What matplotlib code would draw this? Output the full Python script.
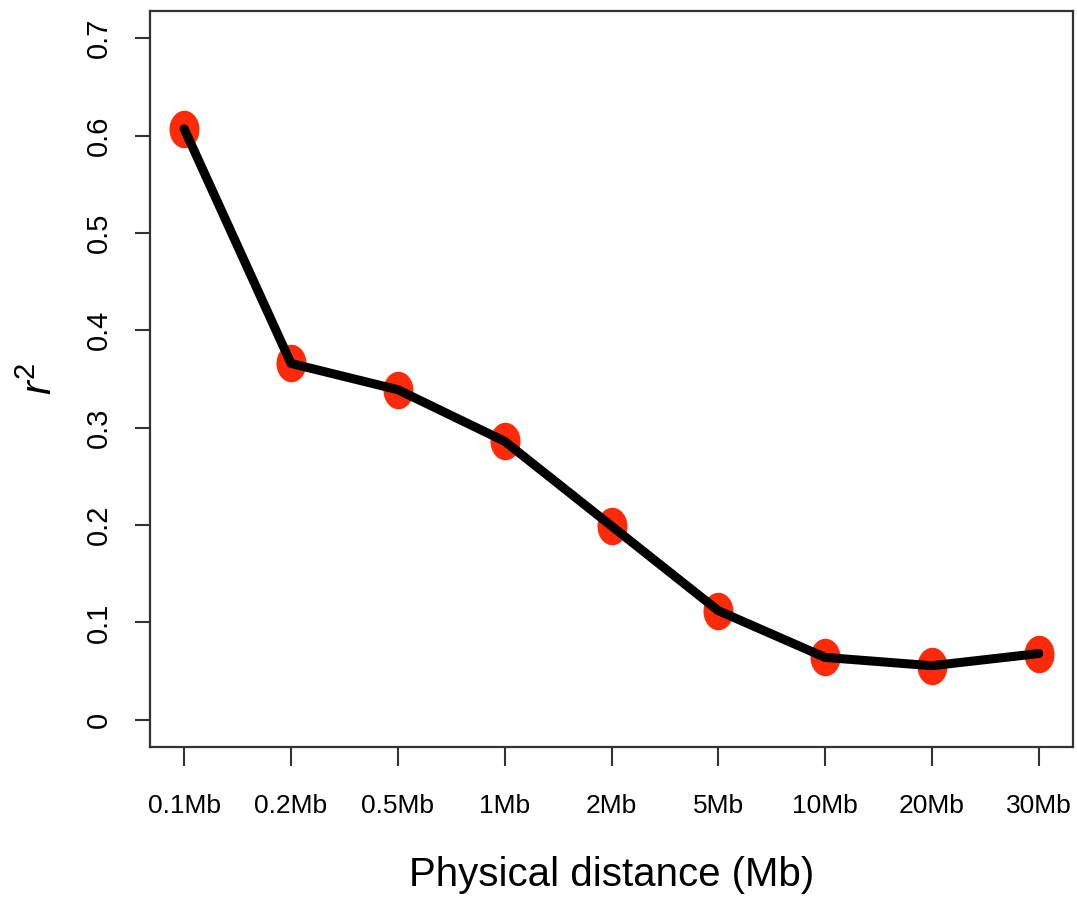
import numpy as np
import matplotlib
matplotlib.use("Agg")
import matplotlib.pyplot as plt
from matplotlib.path import Path

# DATA ----------------
distances = ["0.1Mb", "0.2Mb", "0.5Mb", "1Mb", "2Mb", "5Mb", "10Mb", "20Mb", "30Mb"]
r2_vals = [0.607, 0.366, 0.339, 0.286, 0.199, 0.112, 0.064, 0.0555, 0.068]
y_ticks = [0, 0.1, 0.2, 0.3, 0.4, 0.5, 0.6, 0.7]
y_ticklabels = ["0", "0.1", "0.2", "0.3", "0.4", "0.5", "0.6", "0.7"]

# PLOTTING ------------
plt.rcParams['font.family'] = ['Liberation Sans', 'DejaVu Sans']
plt.rcParams['mathtext.fontset'] = 'custom'
plt.rcParams['mathtext.rm'] = 'Liberation Sans'
plt.rcParams['mathtext.it'] = 'Liberation Sans:italic'

fig = plt.figure(figsize=(10.77, 9.02), dpi=100)
ax = fig.add_axes([150/1077, 1 - 747/902, 923/1077, 736/902])

# slightly tall ellipse marker (source image is stretched vertically)
t = np.linspace(0, 2*np.pi, 60)
ellipse = Path(np.column_stack([0.8*np.cos(t), np.sin(t)]), closed=True)

x = np.arange(len(distances))
ax.plot(x, r2_vals, color='black', linewidth=6.5, zorder=2,
        solid_joinstyle='round', solid_capstyle='round')
ax.plot(x, r2_vals, linestyle='none', marker=ellipse, markersize=27,
        markerfacecolor='#ff2a0a', markeredgecolor='none', zorder=1)

ax.set_xlim(-0.32, 8.32)
ax.set_ylim(-0.028, 0.728)
ax.set_xticks(x)
ax.set_xticklabels(distances)
ax.set_yticks(y_ticks)
ax.set_yticklabels(y_ticklabels, rotation=90, va='center')

ax.tick_params(axis='x', length=14, width=1.5, pad=20, labelsize=19, color='#333333')
ax.tick_params(axis='y', length=11, width=1.5, pad=16, labelsize=21, color='#333333')
for s in ax.spines.values():
    s.set_linewidth(1.6)
    s.set_color('#333333')

ax.set_xlabel("Physical distance (Mb)", fontsize=29, va='center')
ax.xaxis.set_label_coords(0.5, -0.174)
ax.set_ylabel(r"$r^2$", fontsize=30, va='center')
ax.yaxis.set_label_coords(-0.118, 0.5)

fig.savefig("out.png", dpi=100)
